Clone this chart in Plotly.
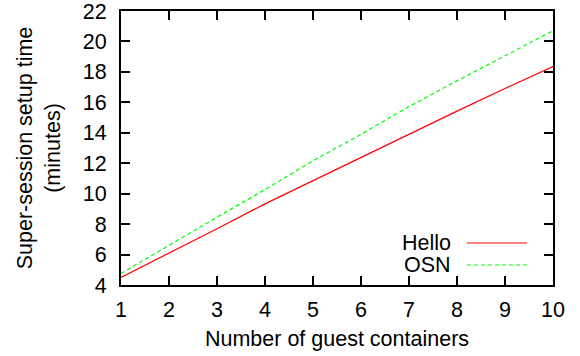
import plotly.graph_objects as go

guest_containers = [1, 2, 3, 4, 5, 6, 7, 8, 9, 10]
hello_minutes = [4.5, 6.08, 7.7, 9.33, 10.86, 12.37, 13.91, 15.42, 16.91, 18.35]
osn_minutes = [4.76, 6.62, 8.45, 10.27, 12.16, 13.89, 15.72, 17.41, 19.06, 20.7]
series_names = ["Hello", "OSN"]
x_title = "Number of guest containers"
y_title = "Super-session setup time<br>(minutes)"

FONT = "Liberation Sans, Arial, Helvetica, sans-serif"
FS = 21.5
RED = "#ff0000"
GREEN = "#00ff00"
TOP = 11
PLOT_H = 285 - TOP

fig = go.Figure()
fig.add_trace(go.Scatter(x=guest_containers, y=hello_minutes, mode="lines",
                         name=series_names[0], line=dict(color=RED, width=1.2)))
fig.add_trace(go.Scatter(x=guest_containers, y=osn_minutes, mode="lines",
                         name=series_names[1], line=dict(color=GREEN, width=1.2, dash="4px,3px")))

axis_common = dict(showgrid=False, zeroline=False, showline=True, linecolor="black",
                   linewidth=2, mirror="allticks", ticks="inside", ticklen=9,
                   tickwidth=1.5, tickcolor="black", automargin=False,
                   ticklabeloverflow="allow",
                   tickfont=dict(family=FONT, size=FS, color="black"))

fig.update_layout(
    width=580, height=356,
    margin=dict(l=121, r=27, t=TOP, b=71),
    paper_bgcolor="white", plot_bgcolor="white",
    showlegend=False,
    font=dict(family=FONT, size=FS, color="black"),
    xaxis=dict(range=[1, 10], dtick=1, tick0=1,
               title=dict(text=x_title, font=dict(family=FONT, size=FS), standoff=10),
               ticklabelstandoff=4, **axis_common),
    yaxis=dict(range=[4, 22], dtick=2, tick0=4,
               title=dict(text=y_title, font=dict(family=FONT, size=FS), standoff=16),
               ticklabelstandoff=8, **axis_common),
)

# gnuplot-style key: label on the left, line sample on the right
legend_rows = [(series_names[0], RED, "solid", 243), (series_names[1], GREEN, "4px,3px", 265)]
for name, color, dash, ypix in legend_rows:
    yp = 1 - (ypix - TOP) / float(PLOT_H)
    x_text = (453 - 121) / 432.0
    fig.add_annotation(xref="paper", yref="paper", x=x_text, y=yp, text=name,
                       showarrow=False, xanchor="right", yanchor="middle",
                       font=dict(family=FONT, size=FS, color="black"))
    fig.add_shape(type="line", xref="paper", yref="paper",
                  x0=(467 - 121) / 432.0, x1=(527 - 121) / 432.0, y0=yp, y1=yp,
                  line=dict(color=color, width=1.2, dash=dash))

fig.write_html("out.html", config={"displayModeBar": False},
               post_script="document.body.style.margin='0';document.body.style.overflow='hidden';")
